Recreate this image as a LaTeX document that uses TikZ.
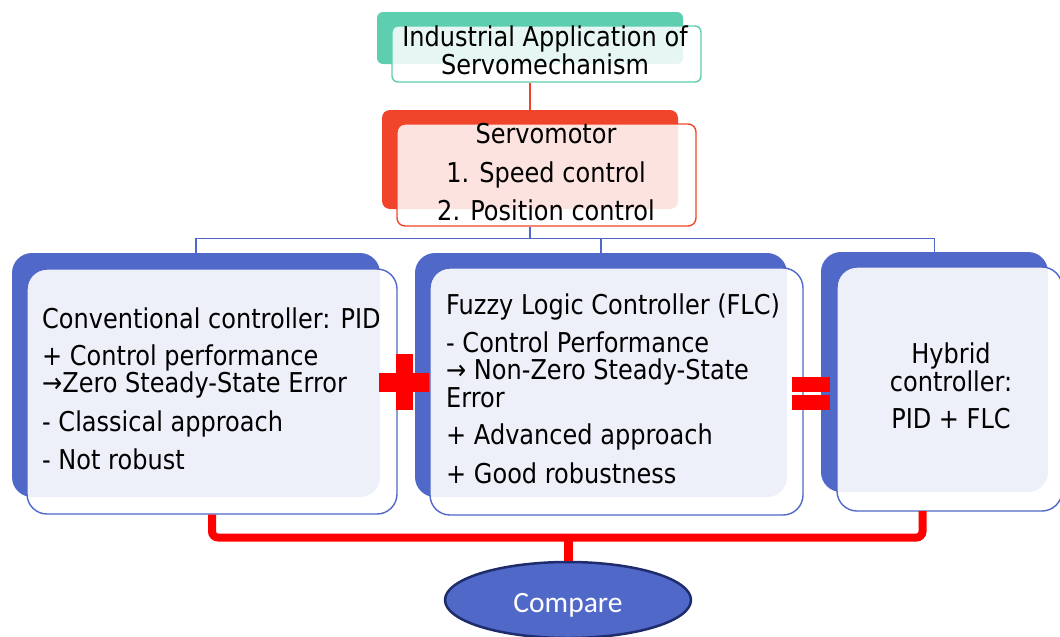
\documentclass[tikz,border=0pt]{standalone}
\usepackage{fontspec}
\setmainfont[FakeStretch=0.88]{DejaVu Sans}
\newfontfamily\labelfont{Carlito}
\usetikzlibrary{shapes.geometric}

\definecolor{mint}{RGB}{93,207,176}
\definecolor{coral}{RGB}{240,69,42}
\definecolor{royal}{RGB}{80,104,200}
\definecolor{navy}{RGB}{31,44,108}

\begin{document}
\begin{tikzpicture}[x=1pt,y=-1pt,
  backbox/.style={rectangle, inner sep=0pt, draw=none},
  frontbox/.style={rectangle, inner sep=0pt, fill=white, line width=1.4pt},
  txt/.style={inner sep=0pt, font=\fontsize{27.3pt}{30pt}\selectfont},
  tree/.style={draw=royal, line width=1.4pt},
  bracket/.style={draw=red, line width=8pt, rounded corners=6pt},
]
\useasboundingbox (0,0) rectangle (1060,637);

% ---- top: application ----
\node[backbox, fill=mint, rounded corners=6pt, minimum width=306, minimum height=52] (topback) at (530,38) {};
\node[frontbox, draw=mint, fill opacity=0.85, rounded corners=6pt, minimum width=309, minimum height=56] (topfront) at (546.5,54) {};
\node[txt, anchor=base] (app1) at (545,46) {Industrial Application of};
\node[txt, anchor=base] (app2) at (545,74) {Servomechanism};

% ---- servomotor ----
\node[backbox, fill=coral, rounded corners=8pt, minimum width=296, minimum height=99] (servoback) at (530,159.5) {};
\node[frontbox, draw=coral, fill opacity=0.85, rounded corners=8pt, minimum width=299, minimum height=102] (servofront) at (546.5,175) {};
\node[txt, anchor=base] (sv1) at (546,143) {Servomotor};
\node[txt, anchor=base] (sv2) at (546,182) {1. Speed control};
\node[txt, anchor=base] (sv3) at (546,220) {2. Position control};

\draw[coral, line width=1.4pt] (topback.south |- topfront.south) -- (servoback.north);

% ---- controller boxes ----
\node[backbox, fill=royal, rounded corners=20pt, minimum width=368, minimum height=244] (b1back) at (196,375) {};
\node[frontbox, draw=royal, fill opacity=0.9, rounded corners=20pt, minimum width=370, minimum height=245] (b1front) at (212,391.5) {};
\node[backbox, fill=royal, rounded corners=20pt, minimum width=372, minimum height=244] (b2back) at (601,375) {};
\node[frontbox, draw=royal, fill opacity=0.9, rounded corners=20pt, minimum width=373, minimum height=247] (b2front) at (616.5,391.5) {};
\node[backbox, fill=royal, rounded corners=20pt, minimum width=227, minimum height=240] (b3back) at (934.5,372) {};
\node[frontbox, draw=royal, fill opacity=0.9, rounded corners=20pt, minimum width=225, minimum height=244] (b3front) at (949.5,389) {};

\foreach \y/\t [count=\i] in {328/{Conventional controller: PID}, 365/{+ Control performance}, 392.5/{→Zero Steady-State Error}, 431/{- Classical approach}, 469/{- Not robust}}
  \node[txt, anchor=base west] (pid\i) at (42,\y) {\t};

\foreach \y/\t [count=\i] in {314/{Fuzzy Logic Controller (FLC)}, 352/{- Control Performance}, 379.5/{→ Non-Zero Steady-State}, 407/{Error}, 444/{+ Advanced approach}, 483/{+ Good robustness}}
  \node[txt, anchor=base west] (flc\i) at (446,\y) {\t};

\foreach \y/\t [count=\i] in {363/{Hybrid}, 391/{controller:}, 428/{PID + FLC}}
  \node[txt, anchor=base] (hyb\i) at (951,\y) {\t};

% ---- blue tree from servomotor ----
\coordinate (bus) at (530,238.5);
\draw[tree] (servoback.south |- servofront.south) -- (servoback.south |- bus);
\draw[tree] (b1back.north) |- (bus) -| (b3back.north);
\draw[tree] (b2back.north) -- (b2back.north |- bus);

% ---- plus and equals signs ----
\fill[red] (396,354) rectangle (413,410);
\fill[red] (379,373) rectangle (429,392);
\fill[red] (792,377) rectangle (830,392);
\fill[red] (792,395) rectangle (830,410);

% ---- comparison ----
\node[ellipse, fill=royal, draw=navy, line width=2.5pt, minimum width=246, minimum height=76, inner sep=0pt] (cmp) at (568,600) {};
\node[inner sep=0pt, anchor=base, text=white, font=\labelfont\fontsize{29.5pt}{31pt}\selectfont] (cmptxt) at (568,612.5) {Compare};

\coordinate (bar) at (568,537.5);
\coordinate (hybleg) at (922.5,511);
\draw[bracket] (b1front.south) |- (bar) -| (hybleg);
\draw[draw=red, line width=9pt] (bar) -- (cmp.north);
\end{tikzpicture}
\end{document}
